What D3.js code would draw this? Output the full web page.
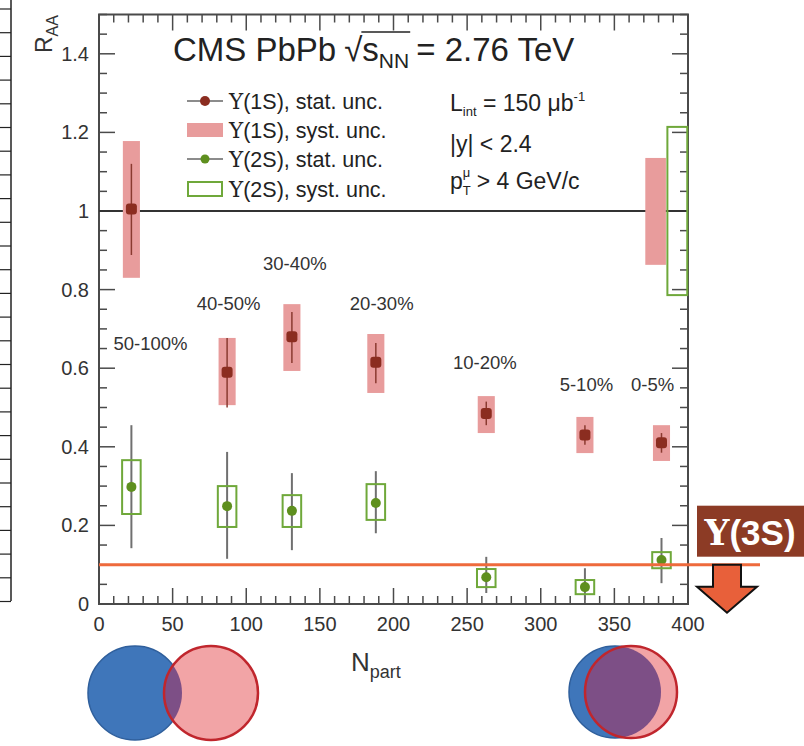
<!DOCTYPE html>
<html>
<head>
<meta charset="utf-8">
<script src="https://cdn.jsdelivr.net/npm/d3@7"></script>
<style>
  body { margin: 0; background: #fff; }
  text { font-family: "Liberation Sans", Arial, Helvetica, sans-serif; white-space: pre; }
  .ups { font-family: "DejaVu Serif", "Liberation Serif", serif; }
</style>
</head>
<body>
<svg id="canvas" width="804" height="746"></svg>
<script>
// data
let npart = [22, 87, 131, 188, 263, 330, 382]
let centrality = ['50-100%', '40-50%', '30-40%', '20-30%', '10-20%', '5-10%', '0-5%']

let raa1S = [1.005, 0.59, 0.68, 0.615, 0.485, 0.43, 0.41]
let stat1SLo = [0.888, 0.50, 0.613, 0.562, 0.455, 0.405, 0.385]
let stat1SHi = [1.120, 0.677, 0.743, 0.664, 0.515, 0.455, 0.435]
let syst1SLo = [0.830, 0.506, 0.593, 0.537, 0.435, 0.384, 0.364]
let syst1SHi = [1.178, 0.677, 0.763, 0.687, 0.529, 0.476, 0.455]

let raa2S = [0.298, 0.249, 0.237, 0.257, 0.068, 0.043, 0.112]
let stat2SLo = [0.142, 0.115, 0.137, 0.180, 0.028, 0.010, 0.053]
let stat2SHi = [0.455, 0.387, 0.333, 0.338, 0.120, 0.091, 0.168]
let syst2SLo = [0.229, 0.196, 0.196, 0.214, 0.043, 0.025, 0.091]
let syst2SHi = [0.366, 0.300, 0.277, 0.305, 0.089, 0.061, 0.132]

// global uncertainties drawn at R = 1
let global1S = [0.863, 1.135]
let global2S = [0.786, 1.214]
let limit3S = 0.1

// where the centrality labels sit (Npart, RAA)
let labelX = [35, 88, 133, 192, 262, 331, 376]
let labelY = [0.646, 0.748, 0.85, 0.748, 0.598, 0.542, 0.542]

let xTicks = [0, 50, 100, 150, 200, 250, 300, 350, 400]
let yTicks = [0, 0.2, 0.4, 0.6, 0.8, 1, 1.2, 1.4]

let svg = d3.select('#canvas')

let pLeft = 99, pRight = 688, pTop = 14.5, pBottom = 604
let x = d3.scaleLinear().domain([0, 400]).range([pLeft, pRight])
let y = d3.scaleLinear().domain([0, 1.5]).range([pBottom, pTop])

let frameCol = '#4a4a4a'

// text with a serif Upsilon in front, like ROOT's #Upsilon
let upsText = (sel, rest) => {
    sel.append('tspan').attr('class', 'ups').text('\u03a5')
    sel.append('tspan').text(rest)
}

// cropped table strip on the far left edge
let strip = svg.append('g')
strip.append('line').attr('x1', 11).attr('x2', 11).attr('y1', 0).attr('y2', 601)
    .attr('stroke', '#222').attr('stroke-width', 1.5)
d3.range(9, 602, 23.7).forEach(yy => {
    strip.append('line').attr('x1', 0).attr('x2', 11).attr('y1', yy).attr('y2', yy)
        .attr('stroke', '#222').attr('stroke-width', 1.2)
})

// ---- axes (ROOT style, ticks inward on all four sides)
let axes = svg.append('g')
axes.append('rect').attr('x', pLeft).attr('y', pTop).attr('width', pRight - pLeft).attr('height', pBottom - pTop)
    .attr('fill', 'none').attr('stroke', frameCol).attr('stroke-width', 2)

let xMinor = d3.range(0, 401, 10)
let yMinor = d3.range(0, 1.501, 0.05)
xMinor.forEach(v => {
    let len = v % 50 === 0 ? 16 : 8
    axes.append('line').attr('x1', x(v)).attr('x2', x(v)).attr('y1', pBottom).attr('y2', pBottom - len)
        .attr('stroke', frameCol).attr('stroke-width', 1.5)
    axes.append('line').attr('x1', x(v)).attr('x2', x(v)).attr('y1', pTop).attr('y2', pTop + len)
        .attr('stroke', frameCol).attr('stroke-width', 1.5)
})
yMinor.forEach(v => {
    let major = Math.abs(v / 0.2 - Math.round(v / 0.2)) < 1e-6
    let len = major ? 16 : 8
    axes.append('line').attr('x1', pLeft).attr('x2', pLeft + len).attr('y1', y(v)).attr('y2', y(v))
        .attr('stroke', frameCol).attr('stroke-width', 1.5)
    axes.append('line').attr('x1', pRight).attr('x2', pRight - len).attr('y1', y(v)).attr('y2', y(v))
        .attr('stroke', frameCol).attr('stroke-width', 1.5)
})

axes.selectAll('.xl').data(xTicks).enter().append('text')
    .attr('x', d => x(d)).attr('y', pBottom + 27)
    .attr('text-anchor', 'middle').attr('font-size', 20).attr('fill', '#333')
    .text(d => d)
axes.selectAll('.yl').data(yTicks).enter().append('text')
    .attr('x', pLeft - 10).attr('y', d => y(d) + 7)
    .attr('text-anchor', 'end').attr('font-size', 20).attr('fill', '#333')
    .text(d => d)

// axis titles
let xt = axes.append('text').attr('x', 351).attr('y', 671).attr('font-size', 26).attr('fill', '#333')
xt.append('tspan').text('N')
xt.append('tspan').attr('font-size', 18).attr('dy', 7).text('part')

let yt = axes.append('text').attr('transform', 'translate(52,53) rotate(-90)')
    .attr('font-size', 23).attr('fill', '#333')
yt.append('tspan').text('R')
yt.append('tspan').attr('font-size', 16).attr('dy', 6).text('AA')

// ---- reference lines
svg.append('line').attr('x1', pLeft).attr('x2', pRight).attr('y1', y(1)).attr('y2', y(1))
    .attr('stroke', '#333').attr('stroke-width', 1.8)

// global uncertainty boxes
svg.append('rect').attr('x', x(371)).attr('width', x(385) - x(371))
    .attr('y', y(global1S[1])).attr('height', y(global1S[0]) - y(global1S[1]))
    .attr('fill', '#e89c9c')
svg.append('rect').attr('x', x(386)).attr('width', x(399.5) - x(386))
    .attr('y', y(global2S[1])).attr('height', y(global2S[0]) - y(global2S[1]))
    .attr('fill', 'none').attr('stroke', '#6fa83a').attr('stroke-width', 2)

// ---- Upsilon(1S)
let g1 = svg.append('g')
g1.selectAll('rect.sys').data(npart).enter().append('rect').attr('class', 'sys')
    .attr('x', d => x(d - 5.8)).attr('width', x(5.8) - x(-5.8))
    .attr('y', (d, i) => y(syst1SHi[i]))
    .attr('height', (d, i) => y(syst1SLo[i]) - y(syst1SHi[i]))
    .attr('fill', '#e89c9c')
g1.selectAll('line').data(npart).enter().append('line')
    .attr('x1', d => x(d)).attr('x2', d => x(d))
    .attr('y1', (d, i) => y(stat1SLo[i])).attr('y2', (d, i) => y(stat1SHi[i]))
    .attr('stroke', '#8a3a30').attr('stroke-width', 1.5)
g1.selectAll('rect.mk').data(npart).enter().append('rect').attr('class', 'mk')
    .attr('x', d => x(d) - 5.5).attr('y', (d, i) => y(raa1S[i]) - 5.5)
    .attr('width', 11).attr('height', 11).attr('rx', 3)
    .attr('fill', '#8b2d20')

// ---- Upsilon(2S)
let g2 = svg.append('g')
g2.selectAll('line').data(npart).enter().append('line')
    .attr('x1', d => x(d)).attr('x2', d => x(d))
    .attr('y1', (d, i) => y(stat2SLo[i])).attr('y2', (d, i) => y(stat2SHi[i]))
    .attr('stroke', '#707070').attr('stroke-width', 2)
g2.selectAll('rect').data(npart).enter().append('rect')
    .attr('x', d => x(d - 6.3)).attr('width', x(6.3) - x(-6.3))
    .attr('y', (d, i) => y(syst2SHi[i]))
    .attr('height', (d, i) => y(syst2SLo[i]) - y(syst2SHi[i]))
    .attr('fill', 'none').attr('stroke', '#6fa83a').attr('stroke-width', 2)
g2.selectAll('circle').data(npart).enter().append('circle')
    .attr('cx', d => x(d)).attr('cy', (d, i) => y(raa2S[i])).attr('r', 5)
    .attr('fill', '#5e8f1e')

// centrality labels
svg.selectAll('.cent').data(centrality).enter().append('text')
    .attr('x', (d, i) => x(labelX[i])).attr('y', (d, i) => y(labelY[i]))
    .attr('text-anchor', 'middle').attr('font-size', 18.5).attr('fill', '#333')
    .text(d => d)

// ---- Upsilon(3S) upper limit
let y3 = y(limit3S)
svg.append('line').attr('x1', pLeft).attr('x2', 760).attr('y1', y3).attr('y2', y3)
    .attr('stroke', '#ee6a3c').attr('stroke-width', 3)
svg.append('rect').attr('x', 697).attr('y', y3 - 59).attr('width', 110).attr('height', 51)
    .attr('fill', '#8c3b25')
let t3 = svg.append('text').attr('x', 750).attr('y', y3 - 20).attr('text-anchor', 'middle')
    .attr('font-size', 35).attr('font-weight', 'bold').attr('fill', '#fff')
upsText(t3, '(3S)')
let ax = 727
svg.append('path')
    .attr('d', `M${ax - 14},${y3} L${ax + 14},${y3} L${ax + 14},${y3 + 22} L${ax + 30},${y3 + 22} L${ax},${y3 + 48} L${ax - 30},${y3 + 22} L${ax - 14},${y3 + 22} Z`)
    .attr('fill', '#e8603a').attr('stroke', '#111').attr('stroke-width', 2)

// ---- title
let title = svg.append('g').attr('fill', '#222')
let fs = 33
let tx = 173, ty = 61
let t1 = title.append('text').attr('x', tx).attr('y', ty).attr('font-size', fs).text('CMS PbPb')
tx += t1.node().getComputedTextLength() + 8
let rad = title.append('text').attr('x', tx).attr('y', ty).attr('font-size', fs).text('\u221a')
tx += rad.node().getComputedTextLength()
let sNN = title.append('text').attr('x', tx).attr('y', ty).attr('font-size', fs)
sNN.append('tspan').text('s')
sNN.append('tspan').attr('font-size', 21).attr('dy', 7).text('NN')
let sW = sNN.node().getComputedTextLength()
title.append('line').attr('x1', tx - 1).attr('x2', tx + sW + 1).attr('y1', ty - 29).attr('y2', ty - 29)
    .attr('stroke', '#222').attr('stroke-width', 1.6)
tx += sW + 7
title.append('text').attr('x', tx).attr('y', ty).attr('font-size', fs).text('= 2.76 TeV')

// ---- legend
let legRows = [101, 130, 159, 189]
let legText = ['(1S), stat. unc.', '(1S), syst. unc.', '(2S), stat. unc.', '(2S), syst. unc.']
let leg = svg.append('g')
leg.append('line').attr('x1', 187).attr('x2', 223).attr('y1', legRows[0]).attr('y2', legRows[0])
    .attr('stroke', '#666').attr('stroke-width', 1.5)
leg.append('circle').attr('cx', 205).attr('cy', legRows[0]).attr('r', 5).attr('fill', '#8b2d20')
leg.append('rect').attr('x', 187).attr('y', legRows[1] - 7).attr('width', 36).attr('height', 14)
    .attr('fill', '#e89c9c')
leg.append('line').attr('x1', 187).attr('x2', 223).attr('y1', legRows[2]).attr('y2', legRows[2])
    .attr('stroke', '#666').attr('stroke-width', 1.5)
leg.append('circle').attr('cx', 205).attr('cy', legRows[2]).attr('r', 4.5).attr('fill', '#5e8f1e')
leg.append('rect').attr('x', 188).attr('y', legRows[3] - 7).attr('width', 34).attr('height', 14)
    .attr('fill', '#fff').attr('stroke', '#6fa83a').attr('stroke-width', 2)
legText.forEach((d, i) => {
    let t = leg.append('text').attr('x', 229).attr('y', legRows[i] + 7.5)
        .attr('font-size', 21.5).attr('fill', '#222')
    upsText(t, d)
})

// run conditions
let info = svg.append('g').attr('fill', '#222').attr('font-size', 23)
let l1 = info.append('text').attr('x', 450).attr('y', 111)
l1.append('tspan').text('L')
l1.append('tspan').attr('font-size', 13).attr('dy', 5).text('int')
l1.append('tspan').attr('dy', -5).text(' = 150 \u03bcb')
l1.append('tspan').attr('font-size', 13).attr('dy', -10).text('-1')
info.append('text').attr('x', 450).attr('y', 152).text('|y| < 2.4')
let l3 = info.append('text').attr('x', 450).attr('y', 189)
l3.append('tspan').text('p')
l3.append('tspan').attr('font-size', 13).attr('dy', 6).text('T')
l3.append('tspan').attr('font-size', 13).attr('dx', -8).attr('dy', -18).text('\u03bc')
l3.append('tspan').attr('dy', 12).text(' > 4 GeV/c')

// ---- nucleus overlap sketches
let nuclei = [
    {blue: [135, 693], red: [211, 693], r: 47},
    {blue: [615, 692], red: [631, 692], r: 46}
]
let defs = svg.append('defs')
nuclei.forEach((n, i) => {
    defs.append('clipPath').attr('id', 'clipb' + i)
        .append('circle').attr('cx', n.blue[0]).attr('cy', n.blue[1]).attr('r', n.r)
    let g = svg.append('g')
    g.append('circle').attr('cx', n.blue[0]).attr('cy', n.blue[1]).attr('r', n.r)
        .attr('fill', '#3f76ba').attr('stroke', '#2f5f9c').attr('stroke-width', 1.5)
    g.append('circle').attr('cx', n.red[0]).attr('cy', n.red[1]).attr('r', n.r)
        .attr('fill', '#f2a4a6')
    g.append('circle').attr('cx', n.red[0]).attr('cy', n.red[1]).attr('r', n.r)
        .attr('clip-path', `url(#clipb${i})`).attr('fill', '#7d4f86')
    g.append('circle').attr('cx', n.red[0]).attr('cy', n.red[1]).attr('r', n.r)
        .attr('fill', 'none').attr('stroke', '#c0262d').attr('stroke-width', 2.5)
})
</script>
</body>
</html>
